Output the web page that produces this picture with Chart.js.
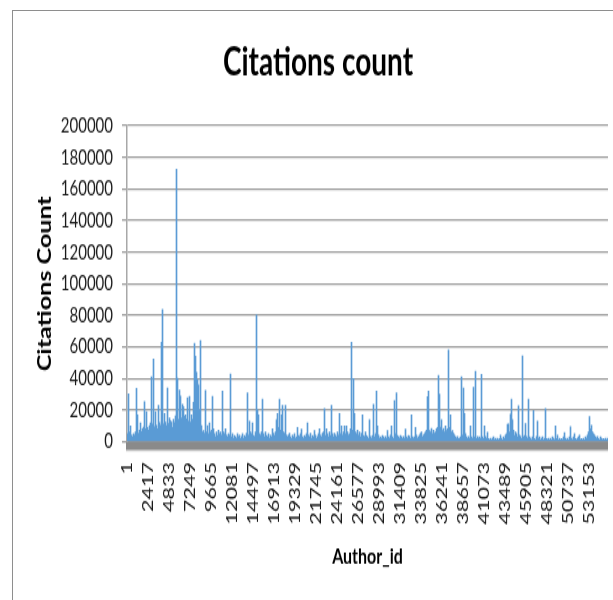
<!DOCTYPE html>
<html>
<head>
<meta charset="utf-8">
<script src="https://cdn.jsdelivr.net/npm/chart.js@4.4.1/dist/chart.umd.min.js"></script>
<style>
  html, body { margin: 0; padding: 0; background: #fff; overflow: hidden; }
  #wrap { position: relative; width: 613px; height: 600px; overflow: hidden; }
  /* the chart is laid out on a shorter canvas and stretched to full height */
  #chart { position: absolute; left: 0; top: 0; transform: scaleY(1.39535); transform-origin: 0 0; }
  .edge { position: absolute; background: #8e8e8e; z-index: 2; }
  #edgeTop { left: 12px; top: 10px; width: 601px; height: 1px; }
  #edgeLeft { left: 12px; top: 10px; width: 1px; height: 590px; }
</style>
</head>
<body>
<div id="wrap">
  <canvas id="chart" width="613" height="430"></canvas>
  <div class="edge" id="edgeTop"></div>
  <div class="edge" id="edgeLeft"></div>
</div>
<script>
// Text
const chartTitle = 'Citations count';
const xTitle = 'Author_id';
const yTitle = 'Citations Count';

// Each bar summarises a run of consecutive author ids
const authorsPerBar = 115;

// Author ids printed under the axis
const authorTicks = [1, 2417, 4833, 7249, 9665, 12081, 14497, 16913, 19329, 21745, 24161, 26577,
  28993, 31409, 33825, 36241, 38657, 41073, 43489, 45905, 48321, 50737, 53153];

// Citation count ticks
const countTicks = [0, 20000, 40000, 60000, 80000, 100000, 120000, 140000, 160000, 180000, 200000];

// Citations per author run, in id order
const citations = [
  5200, 30200, 6100, 10000, 4300, 3200, 5100, 4200, 6300, 33800, 17000, 5400, 7200, 12000, 6400, 8100, 9300, 25300, 8200, 19000,
  9100, 7300, 10200, 12000, 41100, 11200, 52300, 9400, 19000, 10400, 8200, 23000, 12100, 10300, 62900, 83600, 11300, 18000, 12400, 10100,
  34000, 11400, 15000, 13200, 12300, 9000, 14100, 12200, 16300, 172400, 40100, 14200, 32700, 29000, 15100, 23600, 22000, 16200, 17000, 14300,
  27800, 13100, 28700, 12300, 17100, 14200, 25000, 62300, 54000, 44000, 39000, 36000, 20000, 64000, 10100, 6200, 7100, 5300, 32500, 6100,
  10200, 5100, 12000, 6300, 7200, 28800, 8100, 5200, 3100, 6200, 4100, 7300, 5200, 6100, 4200, 32000, 6300, 5100, 8200, 4300,
  3200, 5100, 4300, 42800, 3100, 5200, 2300, 4100, 3200, 2200, 5100, 3300, 4200, 2100, 3300, 5200, 2300, 4100, 3100, 5300,
  31000, 4200, 13000, 6100, 5200, 12000, 4100, 3300, 6200, 80200, 20000, 17000, 5100, 4200, 6300, 27000, 5200, 3100, 6300, 4100,
  3200, 5100, 2300, 4200, 3100, 8200, 5300, 4100, 6200, 14000, 18000, 9100, 27000, 7200, 17000, 23000, 6100, 5300, 23000, 4200,
  3100, 4200, 5300, 3200, 2100, 4300, 3100, 5200, 2200, 3100, 9000, 4100, 3300, 5100, 8000, 3200, 2300, 4100, 3200, 5100,
  12000, 4200, 3100, 5300, 2200, 4100, 3200, 7100, 4300, 2100, 3300, 5200, 8100, 4200, 3100, 5300, 6200, 21000, 4100, 8200,
  5100, 3200, 6300, 4100, 23000, 5200, 3100, 5300, 4200, 3100, 6200, 4300, 18000, 5100, 10000, 4200, 6100, 10000, 5200, 10000,
  6100, 4300, 5200, 8100, 63000, 7200, 40000, 18000, 6300, 5100, 7200, 4300, 6100, 3200, 5300, 17000, 4100, 3300, 6200, 4100,
  3200, 2100, 14000, 3300, 2200, 4100, 23600, 3200, 5100, 32000, 10000, 4200, 2300, 3100, 2200, 4100, 3200, 2100, 3300, 2200,
  7000, 3100, 2200, 4300, 10000, 3200, 2100, 26000, 5200, 31000, 4100, 3200, 2300, 4100, 3200, 2100, 3300, 2200, 8000, 3100,
  2200, 4100, 3300, 2100, 17000, 3200, 2200, 3100, 9000, 4200, 2300, 3100, 4200, 5300, 6100, 3200, 4300, 5100, 6300, 7200,
  28500, 32000, 7100, 6200, 8300, 5100, 7200, 5300, 6100, 8200, 9100, 42000, 30000, 9200, 14000, 7100, 8300, 6200, 10000, 7100,
  8200, 58000, 9100, 17000, 6200, 7100, 5300, 4200, 3100, 2200, 3300, 2100, 2200, 3100, 41000, 4200, 34000, 18000, 5100, 3200,
  2100, 3300, 2200, 10000, 3100, 2200, 34500, 3200, 44600, 2100, 3300, 2200, 3100, 2300, 42700, 3200, 2100, 10000, 3300, 2200,
  6000, 2100, 1200, 2300, 1100, 2200, 3100, 1300, 2200, 1100, 2300, 1200, 2100, 4200, 2300, 1100, 3200, 2100, 4300, 5200,
  11000, 11200, 6100, 17500, 27000, 14000, 7200, 4100, 6300, 5200, 3100, 22700, 4200, 3300, 2100, 54300, 3200, 4100, 11600, 3300,
  2200, 27000, 3100, 2200, 1300, 3200, 19600, 2100, 1200, 3300, 13000, 2200, 3100, 1200, 2300, 3100, 1200, 2300, 21000, 2100,
  1300, 2200, 1100, 2300, 1200, 3100, 2200, 1300, 10000, 2100, 4200, 1100, 2300, 1200, 2100, 1300, 3200, 5700, 2200, 1100,
  2300, 1200, 3100, 9500, 2200, 1300, 3100, 5200, 2100, 1200, 2300, 3100, 4200, 1300, 2100, 1200, 2200, 1100, 3200, 2300,
  4200, 6100, 16000, 8200, 10500, 6300, 5100, 4200, 3100, 2200, 3300, 2100, 1200, 3100, 2200, 1300, 2100, 1200, 2300, 1100,
  2200
];

const face = "Lato, 'Liberation Sans', sans-serif";

// Grey floor strip under the zero line, like a 3-D base
const floorPlugin = {
  id: 'floor',
  afterDraw(chart) {
    const { ctx, chartArea, scales } = chart;
    const y0 = scales.y.getPixelForValue(0);
    ctx.save();
    ctx.fillStyle = '#8a8a8a';
    ctx.fillRect(chartArea.left - 1, y0, chartArea.right - chartArea.left + 1, 6);
    ctx.fillStyle = '#b8b8b8';
    ctx.fillRect(chartArea.left - 1, y0 + 6, chartArea.right - chartArea.left + 1, 0.7);
    ctx.restore();
  }
};

new Chart(document.getElementById('chart'), {
  type: 'bar',
  data: {
    datasets: [{
      label: yTitle,
      data: citations.map((v, i) => ({ x: i * authorsPerBar + authorsPerBar / 2, y: v })),
      backgroundColor: '#5b9bd5',
      borderWidth: 0,
      barPercentage: 1,
      categoryPercentage: 1
    }]
  },
  options: {
    responsive: false,
    animation: false,
    layout: { padding: { top: 0, left: 28, right: 5, bottom: 0 } },
    plugins: {
      legend: { display: false },
      tooltip: { enabled: false },
      title: {
        display: true,
        text: chartTitle,
        color: '#000',
        font: { family: face, size: 28, weight: 'bold' },
        padding: { top: 28.4, bottom: 28.1 }
      }
    },
    scales: {
      x: {
        type: 'linear',
        offset: false,
        min: 0,
        max: citations.length * authorsPerBar,
        afterBuildTicks: s => { s.ticks = authorTicks.map(v => ({ value: v })); },
        afterFit: s => { s.height = 113.4; s.paddingLeft = 0; s.paddingRight = 0; },
        grid: { display: false, drawTicks: false },
        border: { display: false },
        ticks: {
          autoSkip: false,
          minRotation: 90,
          maxRotation: 90,
          padding: 14.5,
          color: '#1a1a1a',
          font: { family: face, size: 15.5 },
          callback: v => String(v)
        },
        title: {
          display: true,
          text: xTitle,
          color: '#000',
          font: { family: face, size: 16, weight: 'bold' },
          padding: { top: 0, bottom: 22 }
        }
      },
      y: {
        min: 0,
        max: 200000,
        afterBuildTicks: s => { s.ticks = countTicks.map(v => ({ value: v })); },
        afterFit: s => { s.width = 99; },
        grid: { color: '#9d9d9d', lineWidth: 1.3, tickLength: 5, drawTicks: true },
        border: { display: true, color: '#a8a8a8', width: 1.5 },
        ticks: {
          padding: 9,
          color: '#1a1a1a',
          font: { family: face, size: 15 },
          callback: v => String(v)
        },
        title: {
          display: true,
          text: yTitle,
          color: '#000',
          font: { family: face, size: 18, weight: 'bold' },
          padding: { top: 6.2, bottom: 0 }
        }
      }
    }
  },
  plugins: [floorPlugin]
});
</script>
</body>
</html>
